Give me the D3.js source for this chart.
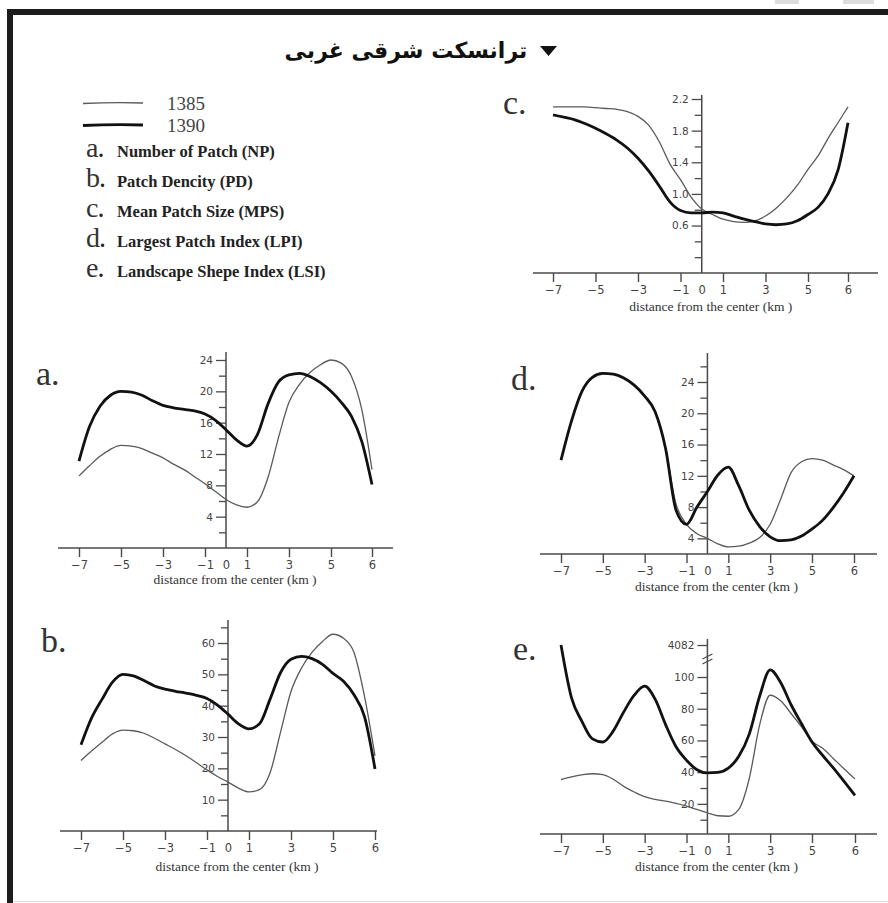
<!DOCTYPE html>
<html>
<head>
<meta charset="utf-8">
<script src="https://cdn.jsdelivr.net/npm/d3@7"></script>
<style>
  body { margin: 0; background: #fff; }
  svg { display: block; }
</style>
</head>
<body>
<svg id="chart" width="888" height="903"></svg>
<script>
// distance from the center (km), shared sample grid for every series
const DIST = [-7, -6.5, -6, -5.5, -5, -4.5, -4, -3.5, -3, -2.5, -2, -1.5, -1, -0.5, 0,
  0.5, 1, 1.5, 2, 2.5, 3, 3.5, 4, 4.5, 5, 5.25, 5.5, 5.75, 6];
const X_TICKS = [-7, -5, -3, -1, 0, 1, 3, 5, 6];
const X_TITLE = "distance from the center (km )";
const TITLE = "ترانسکت شرقی غربی";
const YEARS = ["1385", "1390"];

// a. Number of Patch (NP)
const NP_1385 = [9.2, 10.5, 11.7, 12.6, 13.1, 13.0, 12.7, 12.1, 11.5, 10.7, 10.0, 9.1, 8.2, 7.2, 6.2,
  5.5, 5.2, 5.9, 9.0, 14.1, 18.6, 20.9, 22.4, 23.4, 24.0, 23.6, 21.9, 17.7, 10.0];
const NP_1390 = [11.1, 15.5, 18.1, 19.5, 20.0, 19.9, 19.5, 18.8, 18.2, 17.9, 17.7, 17.5, 17.1, 16.3, 15.1,
  13.8, 13.0, 14.5, 18.4, 21.2, 22.1, 22.3, 21.9, 21.1, 20.0, 18.6, 16.8, 13.6, 8.1];
const NP_TICKS = [2, 4, 6, 8, 10, 12, 14, 16, 18, 20, 22, 24];
const NP_LABELS = [4, 8, 12, 16, 20, 24];

// b. Patch Dencity (PD)
const PD_1385 = [22.5, 25.5, 28.3, 31.0, 32.2, 32.0, 31.2, 29.6, 27.8, 26.0, 24.0, 21.8, 19.5, 17.4, 15.6,
  13.7, 12.5, 13.2, 18.5, 31.5, 44.5, 52.0, 57.0, 60.5, 62.8, 61.5, 57.0, 43.0, 24.0];
const PD_1390 = [27.5, 36.0, 42.0, 47.5, 50.0, 49.5, 48.0, 46.3, 45.3, 44.6, 44.0, 43.3, 42.3, 40.2, 37.3,
  34.2, 32.6, 34.2, 42.0, 50.5, 54.8, 55.7, 55.0, 53.2, 50.3, 47.8, 43.5, 36.5, 19.8];
const PD_TICKS = [5, 10, 15, 20, 25, 30, 35, 40, 45, 50, 55, 60, 65];
const PD_LABELS = [10, 20, 30, 40, 50, 60];

// c. Mean Patch Size (MPS)
const MPS_1385 = [2.1, 2.1, 2.1, 2.1, 2.09, 2.08, 2.07, 2.04, 1.98, 1.87, 1.66, 1.38, 1.18, 0.96, 0.81,
  0.74, 0.68, 0.65, 0.64, 0.66, 0.72, 0.82, 0.95, 1.11, 1.31, 1.48, 1.70, 1.90, 2.1];
const MPS_1390 = [2.0, 1.97, 1.94, 1.89, 1.83, 1.76, 1.68, 1.58, 1.45, 1.29, 1.10, 0.90, 0.79, 0.76, 0.76,
  0.77, 0.76, 0.72, 0.68, 0.65, 0.62, 0.61, 0.62, 0.66, 0.74, 0.83, 1.0, 1.3, 1.9];
const MPS_TICKS = [0.2, 0.4, 0.6, 0.8, 1.0, 1.2, 1.4, 1.6, 1.8, 2.0, 2.2];
const MPS_LABELS = [0.6, 1.0, 1.4, 1.8, 2.2];

// d. Largest Patch Index (LPI)
const LPI_1385 = [14.0, 19.0, 22.8, 24.6, 25.1, 25.0, 24.5, 23.6, 22.2, 20.2, 15.5, 8.4, 5.8, 4.6, 4.0,
  3.3, 2.9, 3.0, 3.4, 4.1, 5.8, 9.0, 12.4, 13.8, 14.2, 14.0, 13.4, 12.8, 12.0];
const LPI_1390 = [14.0, 19.0, 22.8, 24.6, 25.1, 25.0, 24.5, 23.6, 22.2, 20.2, 15.5, 7.6, 5.8, 8.0, 10.0,
  12.1, 13.1, 10.7, 7.6, 5.5, 4.2, 3.7, 3.8, 4.3, 5.2, 6.3, 7.9, 9.8, 12.0];
const LPI_TICKS = [4, 6, 8, 10, 12, 14, 16, 18, 20, 22, 24, 26];
const LPI_LABELS = [4, 8, 12, 16, 20, 24];

// e. Landscape Shepe Index (LSI), axis broken above 100
const LSI_1385 = [35.3, 37.0, 38.3, 39.0, 38.5, 35.5, 31.0, 27.5, 24.5, 22.8, 21.7, 20.3, 18.6, 16.5, 14.4,
  12.5, 12.2, 16.5, 36.0, 70.0, 88.5, 85.0, 77.0, 68.5, 59.5, 55.0, 48.5, 42.0, 35.7];
const LSI_1390 = [4082, 87.0, 72.0, 61.0, 59.0, 66.0, 78.0, 88.5, 94.2, 86.0, 70.0, 56.0, 47.5, 41.5, 39.5,
  39.8, 42.5, 50.0, 64.0, 88.0, 104.5, 96.5, 82.5, 70.5, 59.0, 50.5, 42.5, 34.0, 25.3];
const LSI_TICKS = [10, 20, 30, 40, 50, 60, 70, 80, 90, 100, 4082];
const LSI_LABELS = [20, 40, 60, 80, 100, 4082];

const INDICES = [
  ["a", "Number of Patch (NP)"],
  ["b", "Patch Dencity (PD)"],
  ["c", "Mean Patch Size (MPS)"],
  ["d", "Largest Patch Index  (LPI)"],
  ["e", "Landscape Shepe Index (LSI)"]
];

const INK = "#4a4a4a";
const THIN = { stroke: "#5a5a5a", width: 1.3 };
const THICK = { stroke: "#111", width: 2.8 };

const PANELS = [
  { key: "a", s85: NP_1385, s90: NP_1390, ticks: NP_TICKS, labels: NP_LABELS, fmt: d3.format("d"),
    xRange: [79, 331, 372], yDomain: [0, 24], yRange: [548, 360], yTop: 352, xLine: [58, 393], letter: [36, 385], titleDy: 36 },
  { key: "b", s85: PD_1385, s90: PD_1390, ticks: PD_TICKS, labels: PD_LABELS, fmt: d3.format("d"),
    xRange: [81, 333, 375], yDomain: [0, 60], yRange: [831, 643], yTop: 620, xLine: [60, 377], letter: [41, 652], titleDy: 40 },
  { key: "c", s85: MPS_1385, s90: MPS_1390, ticks: MPS_TICKS, labels: MPS_LABELS, fmt: d3.format(".1f"),
    xRange: [553, 808, 848], yDomain: [0, 2.2], yRange: [273, 99], yTop: 95, xLine: [533, 878], letter: [503, 114], titleDy: 38 },
  { key: "d", s85: LPI_1385, s90: LPI_1390, ticks: LPI_TICKS, labels: LPI_LABELS, fmt: d3.format("d"),
    xRange: [561, 812, 854], yDomain: [2, 24], yRange: [554, 382], yTop: 353, xLine: [540, 877], letter: [511, 390], titleDy: 37 },
  { key: "e", s85: LSI_1385, s90: LSI_1390, ticks: LSI_TICKS, labels: LSI_LABELS, fmt: d3.format("d"),
    xRange: [561, 812, 855], yDomain: [1, 100, 111.5, 4082], yRange: [834, 677, 659, 645], yTop: 639, xLine: [540, 877], letter: [513, 660], titleDy: 37, brk: 111.5 }
];

const svg = d3.select("#chart");

svg.append("rect").attr("width", 888).attr("height", 903).attr("fill", "#fff");

// page frame (top + left edges of the screenshot)
svg.append("rect").attr("x", 775).attr("y", 0).attr("width", 24).attr("height", 4).attr("fill", "#dcdcdc");
svg.append("rect").attr("x", 843).attr("y", 0).attr("width", 31).attr("height", 4).attr("fill", "#dcdcdc");
svg.append("rect").attr("x", 7).attr("y", 9).attr("width", 881).attr("height", 6).attr("fill", "#1c1c1c");
svg.append("rect").attr("x", 7).attr("y", 9).attr("width", 6).attr("height", 894).attr("fill", "#1c1c1c");
svg.append("line").attr("x1", 13).attr("x2", 888).attr("y1", 901.5).attr("y2", 901.5)
  .attr("stroke", "#ddd").attr("stroke-width", 1);

// title
svg.append("text")
  .attr("x", 406).attr("y", 58)
  .attr("text-anchor", "middle")
  .style("font-family", "'DejaVu Sans', sans-serif")
  .style("font-weight", "bold")
  .style("font-size", "22px")
  .attr("fill", "#111")
  .text(TITLE);
svg.append("path").attr("d", "M540,46 L557,46 L548.5,56 Z").attr("fill", "#111");

// legend
const legend = svg.append("g");
[THIN, THICK].forEach((st, i) => {
  const ly = 103 + i * 22;
  legend.append("path")
    .attr("d", `M83,${ly + 0.5} Q113,${ly - 0.8} 143,${ly}`)
    .attr("fill", "none")
    .attr("stroke", st.stroke)
    .attr("stroke-width", st.width);
  legend.append("text")
    .attr("x", 167).attr("y", ly + 7)
    .style("font-family", "'Liberation Serif', serif")
    .style("font-size", "19px")
    .attr("fill", "#444")
    .text(YEARS[i]);
});

INDICES.forEach(([k, name], i) => {
  const row = legend.append("text")
    .attr("x", 86).attr("y", 157 + i * 30)
    .style("font-family", "'Liberation Serif', serif")
    .attr("fill", "#222");
  row.append("tspan").style("font-size", "28px").attr("fill", "#333").text(k);
  row.append("tspan").style("font-size", "20px").style("font-weight", "bold").text(".");
  row.append("tspan").attr("x", 117)
    .style("font-size", "16.5px")
    .style("font-weight", "bold")
    .text(name);
});

const fmtX = d => d < 0 ? "\u2212" + Math.abs(d) : String(d);

PANELS.forEach(p => {
  // last labelled tick "6" sits where 7 would be, so x is piecewise
  const x = d3.scaleLinear().domain([-7, 5, 6]).range(p.xRange);
  const y = d3.scaleLinear().domain(p.yDomain).range(p.yRange);
  const x0 = x(0);
  const yBase = p.yRange[0];
  const isLabel = v => p.labels.some(l => Math.abs(l - v) < 1e-9);

  const g = svg.append("g");

  // x axis
  g.append("line")
    .attr("x1", p.xLine[0]).attr("x2", p.xLine[1])
    .attr("y1", yBase).attr("y2", yBase)
    .attr("stroke", INK).attr("stroke-width", 1.5);

  g.append("g")
    .attr("transform", `translate(0,${yBase})`)
    .call(d3.axisBottom(x).tickValues(X_TICKS).tickSize(9).tickPadding(4).tickFormat(fmtX))
    .call(a => a.select(".domain").remove())
    .call(a => a.selectAll(".tick line")
      .attr("stroke", INK).attr("stroke-width", 1.4)
      .attr("display", d => d === 0 ? "none" : null))
    .call(a => a.selectAll(".tick text")
      .attr("fill", "#444")
      .style("font-family", "'DejaVu Sans', sans-serif")
      .style("font-size", "11.5px"));

  g.append("text")
    .attr("x", x0 + 9).attr("y", yBase + p.titleDy)
    .attr("text-anchor", "middle")
    .style("font-family", "'Liberation Serif', serif")
    .style("font-size", "13.5px")
    .attr("fill", "#333")
    .text(X_TITLE);

  // y axis
  g.append("line")
    .attr("x1", x0).attr("x2", x0)
    .attr("y1", yBase).attr("y2", p.yTop)
    .attr("stroke", INK).attr("stroke-width", 1.5);

  g.append("g")
    .attr("transform", `translate(${x0},0)`)
    .call(d3.axisLeft(y).tickValues(p.ticks).tickSize(10).tickPadding(3)
      .tickFormat(d => isLabel(d) ? p.fmt(d) : ""))
    .call(a => a.select(".domain").remove())
    .call(a => a.selectAll(".tick line")
      .attr("x2", d => isLabel(d) ? -10 : -7)
      .attr("stroke", INK).attr("stroke-width", 1.3))
    .call(a => a.selectAll(".tick text")
      .attr("fill", "#444")
      .style("font-family", "'DejaVu Sans', sans-serif")
      .style("font-size", "10.5px"));

  if (p.brk) {
    const by = y(p.brk);
    [-2.5, 2.5].forEach(o => {
      g.append("line")
        .attr("x1", x0 - 5).attr("x2", x0 + 5)
        .attr("y1", by + o + 2.5).attr("y2", by + o - 2.5)
        .attr("stroke", INK).attr("stroke-width", 1.2);
    });
  }

  // series: 1385 thin under 1390 thick
  const line = d3.line()
    .x(d => x(d[0]))
    .y(d => y(d[1]))
    .curve(d3.curveMonotoneX);

  [[p.s85, THIN], [p.s90, THICK]].forEach(([vals, st]) => {
    g.append("path")
      .datum(d3.zip(DIST, vals))
      .attr("fill", "none")
      .attr("stroke", st.stroke)
      .attr("stroke-width", st.width)
      .attr("stroke-linejoin", "round")
      .attr("d", line);
  });

  // panel letter
  g.append("text")
    .attr("x", p.letter[0]).attr("y", p.letter[1])
    .style("font-family", "'Liberation Serif', serif")
    .style("font-size", "34px")
    .attr("fill", "#333")
    .text(p.key + ".");
});
</script>
</body>
</html>
